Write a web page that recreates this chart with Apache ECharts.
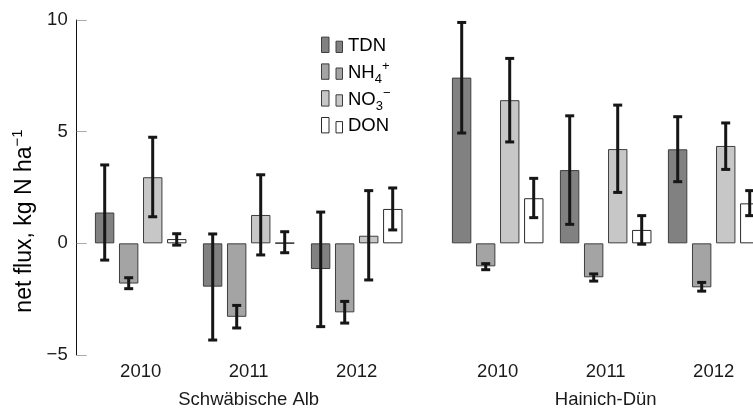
<!DOCTYPE html>
<html>
<head>
<meta charset="utf-8">
<script src="https://cdn.jsdelivr.net/npm/echarts@6/dist/echarts.min.js"></script>
<style>
html,body{margin:0;padding:0;width:753px;height:409px;overflow:hidden;background:#fff;}
#c{width:780px;height:409px;}
</style>
</head>
<body>
<div id="c"></div>
<script>
// ---- data ----
const years = ['2010', '2011', '2012'];
const sites = ['Schwäbische Alb', 'Hainich-Dün'];
const yMin = -5, yMax = 10, yStep = 5;
const species = ['TDN', 'NH4', 'NO3', 'DON'];

// Schwäbische Alb
const saTDN = [1.38, -1.94, -1.15];
const saNH4 = [-1.80, -3.29, -3.09];
const saNO3 = [2.96, 1.27, 0.34];
const saDON = [0.19, 0.02, 1.54];
const saTDNerr = [[-0.75, 3.51], [-4.33, 0.42], [-3.73, 1.40]];
const saNH4err = [[-2.03, -1.54], [-3.79, -2.78], [-3.57, -2.60]];
const saNO3err = [[1.19, 4.75], [-0.52, 3.07], [-1.64, 2.36]];
const saDONerr = [[-0.08, 0.43], [-0.42, 0.52], [0.60, 2.48]];

// Hainich-Dün
const hdTDN = [7.42, 3.28, 4.21];
const hdNH4 = [-1.03, -1.52, -1.97];
const hdNO3 = [6.41, 4.22, 4.36];
const hdDON = [2.02, 0.60, 1.79];
const hdTDNerr = [[4.94, 9.89], [0.85, 5.71], [2.76, 5.67]];
const hdNH4err = [[-1.18, -0.91], [-1.69, -1.37], [-2.14, -1.75]];
const hdNO3err = [[4.54, 8.28], [2.28, 6.19], [3.31, 5.39]];
const hdDONerr = [[1.15, 2.91], [-0.04, 1.24], [1.24, 2.36]];

// ---- styles ----
const FONT = 'Liberation Sans, Arial, Helvetica, sans-serif';
const FS = 18.5;
const fills = ['#818181', '#a4a4a4', '#c7c7c7', '#ffffff'];
const borders = ['#3e3e3e', '#3e3e3e', '#3e3e3e', '#2a2a2a'];
const BAR_W = 19.4, BAR_STEP = 24;

const saVals = [saTDN, saNH4, saNO3, saDON];
const hdVals = [hdTDN, hdNH4, hdNO3, hdDON];
const saErrs = [saTDNerr, saNH4err, saNO3err, saDONerr];
const hdErrs = [hdTDNerr, hdNH4err, hdNO3err, hdDONerr];

function errData(errs) {
  const out = [];
  errs.forEach((arr, k) => arr.forEach((e, i) => out.push([i, e[0], e[1], k])));
  return out;
}

function renderErr(params, api) {
  const ci = api.value(0);
  const k = api.value(3);
  const base = api.coord([ci, 0]);
  const x = base[0] + (k - 1.5) * BAR_STEP;
  const y1 = api.coord([ci, api.value(1)])[1];
  const y2 = api.coord([ci, api.value(2)])[1];
  const st = { stroke: '#161616', lineWidth: 3 };
  const cw = 4.5;
  return {
    type: 'group',
    children: [
      { type: 'line', shape: { x1: x, y1: y1, x2: x, y2: y2 }, style: st },
      { type: 'line', shape: { x1: x - cw, y1: y1, x2: x + cw, y2: y1 }, style: st },
      { type: 'line', shape: { x1: x - cw, y1: y2, x2: x + cw, y2: y2 }, style: st }
    ]
  };
}

const series = [];
[saVals, hdVals].forEach((vals, g) => {
  vals.forEach((v, k) => {
    series.push({
      type: 'bar', name: species[k], xAxisIndex: g, yAxisIndex: g,
      data: v, barWidth: BAR_W, barGap: '24%',
      itemStyle: { color: fills[k], borderColor: borders[k], borderWidth: 1 },
      emphasis: { disabled: true }, animation: false
    });
  });
});
series.push({ type: 'custom', xAxisIndex: 0, yAxisIndex: 0, data: errData(saErrs), renderItem: renderErr, encode: { x: 0, y: [1, 2] }, z: 10, animation: false });
series.push({ type: 'custom', xAxisIndex: 1, yAxisIndex: 1, data: errData(hdErrs), renderItem: renderErr, encode: { x: 0, y: [1, 2] }, z: 10, animation: false });

function xAxisFor(g) {
  return {
    type: 'category', gridIndex: g, data: years,
    axisLine: { show: false }, axisTick: { show: false },
    axisLabel: { fontSize: FS, color: '#1a1a1a', fontFamily: FONT, margin: 7 },
    name: sites[g], nameLocation: 'middle', nameGap: 35,
    nameTextStyle: { fontSize: FS, color: '#1a1a1a', fontFamily: FONT }
  };
}

// legend (drawn as graphic)
const legRows = [52.5, 79.3, 106.1, 132.9];
const legTexts = [
  '{m|TDN}',
  '{m|NH}{sub|4}{sup|+}',
  '{m|NO}{sub|3}{sup|−}',
  '{m|DON}'
];
const rich = {
  m: { fontSize: FS, fontFamily: FONT, color: '#1a1a1a', lineHeight: 26, verticalAlign: 'middle' },
  sub: { fontSize: 13, fontFamily: FONT, color: '#1a1a1a', lineHeight: 13, verticalAlign: 'bottom' },
  sup: { fontSize: 13, fontFamily: FONT, color: '#1a1a1a', lineHeight: 13, verticalAlign: 'top' }
};
const graphics = [];
legRows.forEach((b, k) => {
  graphics.push({ type: 'rect', shape: { x: 321.5, y: b - 15.4, width: 7.5, height: 15.4 }, style: { fill: fills[k], stroke: borders[k], lineWidth: 1 } });
  graphics.push({ type: 'rect', shape: { x: 336, y: b - 11.3, width: 6.5, height: 11.3 }, style: { fill: fills[k], stroke: borders[k], lineWidth: 1 } });
  graphics.push({ type: 'text', x: 348, y: b - 6.5, style: { text: legTexts[k], rich: rich, verticalAlign: 'middle', align: 'left' } });
});
graphics.push({
  type: 'text', x: 25, y: 221, rotation: Math.PI / 2,
  style: {
    text: '{m|net flux, kg N ha}{sup|−1}', align: 'center', verticalAlign: 'middle',
    rich: {
      m: { fontSize: 23, fontFamily: FONT, color: '#1a1a1a', lineHeight: 30, verticalAlign: 'middle' },
      sup: { fontSize: 15, fontFamily: FONT, color: '#1a1a1a', lineHeight: 15, verticalAlign: 'top' }
    }
  }
});

const chart = echarts.init(document.getElementById('c'), null, { renderer: 'canvas' });
chart.setOption({
  animation: false,
  backgroundColor: '#ffffff',
  grid: [
    { left: 86.7, top: 20, width: 324, height: 335, outerBoundsMode: 'none', containLabel: false },
    { left: 443.7, top: 20, width: 324, height: 335, outerBoundsMode: 'none', containLabel: false }
  ],
  xAxis: [xAxisFor(0), xAxisFor(1)],
  yAxis: [
    {
      type: 'value', gridIndex: 0, min: yMin, max: yMax, interval: yStep, offset: 10,
      axisLine: { show: true, lineStyle: { color: '#111', width: 1 } },
      axisTick: { show: true, inside: true, length: 10, lineStyle: { color: '#aaaaaa', width: 1 } },
      axisLabel: { fontSize: FS, color: '#1a1a1a', fontFamily: FONT, margin: 9, formatter: v => (v < 0 ? '\u2212' + Math.abs(v) : String(v)) },
      splitLine: { show: false }
    },
    { type: 'value', gridIndex: 1, min: yMin, max: yMax, interval: yStep, show: false, splitLine: { show: false } }
  ],
  graphic: graphics,
  series: series
});
</script>
</body>
</html>
